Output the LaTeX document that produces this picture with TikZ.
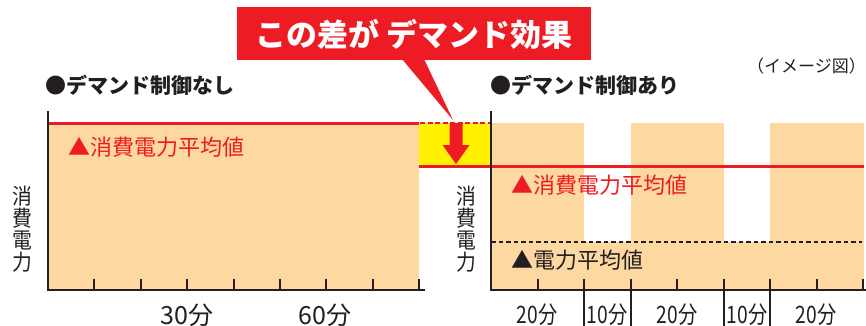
\documentclass[tikz,border=0pt]{standalone}
\usepackage{fontspec}
\newfontfamily\jp{Noto Sans CJK JP}
\definecolor{dred}{HTML}{ED1C24}
\definecolor{peach}{HTML}{FDD8A0}
\definecolor{ylw}{HTML}{FFF100}
\definecolor{ink}{HTML}{231F20}
\tikzset{
  txt/.style={inner sep=0pt, font=\jp},
  axisline/.style={draw=ink, line width=2pt},
  tickline/.style={draw=ink, line width=2pt},
  redline/.style={draw=dred, line width=3pt},
}
\newcommand{\fs}[1]{\fontsize{#1}{#1}\selectfont}
\begin{document}
\begin{tikzpicture}[x=1pt,y=-1pt]
\useasboundingbox (0,0) rectangle (866,326);
% fills
\fill[peach] (48,123) rectangle (419,290);
\fill[ylw] (419,123) rectangle (490,165);
\fill[peach] (491,242) rectangle (864,290);
\fill[peach] (491,123) rectangle (584,242);
\fill[peach] (631,123) rectangle (724,242);
\fill[peach] (770,123) rectangle (864,242);
% lines
\draw[redline] (48,123) -- (419,123);
\draw[dred, line width=2.5pt, dash pattern=on 5pt off 2.5pt] (420,123) -- (490,123);
\draw[redline] (419,166) -- (864,166);
\draw[ink, line width=1.5pt, dash pattern=on 4.5pt off 3pt] (491,242) -- (862,242);
% arrow
\fill[dred] (449.5,123) -- (462.5,123) -- (462.5,145) -- (469.5,145) -- (456,164) -- (442.5,145) -- (449.5,145) -- cycle;
% axes left
\draw[axisline] (48,111) -- (48,290) -- (425,290);
\foreach \i in {1,...,8} \draw[tickline] ({48+46.4*\i},279) -- ({48+46.4*\i},290);
% axes right
\draw[axisline] (491,111) -- (491,290) -- (866,290);
\foreach \i in {1,4,7,8} \draw[tickline] ({491+46.5*\i},279) -- ({491+46.5*\i},290);
\foreach \i in {2,3,5,6} \draw[tickline] ({491+46.5*\i},279) -- ({491+46.5*\i},326);
% callout
\fill[dred] (237,7) rectangle (591,60);
\fill[dred] (402,59) -- (424,59) -- (453,120) -- cycle;
\node[txt, text=white, font=\jp\bfseries\fs{31}] (callout) at (414,34) {この差が デマンド効果};
% titles
\node[txt, text=ink, font=\jp\bfseries\fs{21}, anchor=west] (t1) at (45,85) {●デマンド制御なし};
\node[txt, text=ink, font=\jp\bfseries\fs{21}, anchor=west] (t2) at (490,85) {●デマンド制御あり};
\node[txt, text=ink, font=\jp\fs{17}, anchor=east] (img) at (866,66) {（イメージ図）};
% labels
\node[txt, text=dred, font=\jp\fs{22}, anchor=west] (l1) at (68,147) {▲消費電力平均値};
\node[txt, text=dred, font=\jp\fs{22}, anchor=west] (l2) at (511,185) {▲消費電力平均値};
\node[txt, text=ink, font=\jp\fs{22}, anchor=west] (l3) at (511,260) {▲電力平均値};
% y labels
\node[txt, text=ink, font=\jp\fontsize{22}{22}\selectfont, align=center, xscale=0.9] (y1) at (22,229) {消\\費\\電\\力};
\node[txt, text=ink, font=\jp\fontsize{22}{22}\selectfont, align=center, xscale=0.9] (y2) at (466,229) {消\\費\\電\\力};
% x labels
\node[txt, text=ink, font=\jp\fs{25}] (x30) at (187,315) {30分};
\node[txt, text=ink, font=\jp\fs{25}] (x60) at (325,315) {60分};
\foreach \x/\t [count=\k] in {537/20,607/10,677/20,747/10,816/20}
  \node[txt, text=ink, font=\jp\fs{24}, xscale=0.8] (r\k) at (\x,315) {\t 分};
\end{tikzpicture}
\end{document}
